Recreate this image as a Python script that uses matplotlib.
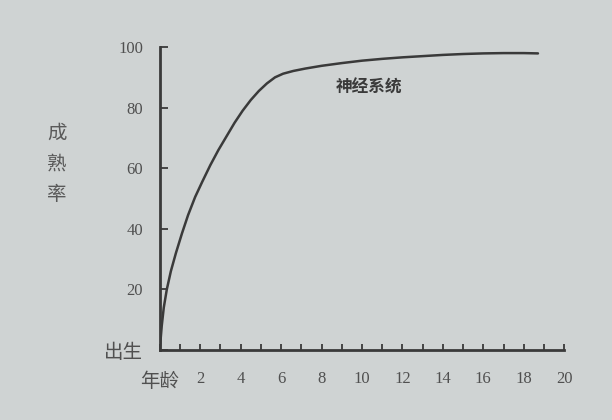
"""Maturation curve of the nervous system (scanned textbook figure)."""

import matplotlib

matplotlib.use("Agg")
import matplotlib.pyplot as plt
from matplotlib.ticker import MultipleLocator

plt.rcParams["font.family"] = ["Noto Sans CJK SC", "DejaVu Sans"]

# values
age = [0, 0.1, 0.2, 0.35, 0.55, 0.8, 1.1, 1.4, 1.75, 2.1, 2.5, 2.9, 3.3,
       3.7, 4.1, 4.5, 4.9, 5.3, 5.7, 6.1, 6.6, 7.2, 8, 9, 10, 11, 12, 13,
       14, 15, 16, 17, 18, 18.7]
maturity = [0, 8, 14, 20, 26, 32, 38.5, 44.5, 50.5, 55.5, 61, 66, 70.5,
            75, 79, 82.5, 85.5, 88, 90, 91.2, 92.1, 92.9, 93.8, 94.7, 95.5,
            96.1, 96.6, 97.0, 97.4, 97.7, 97.9, 98.0, 98.0, 97.9]

y_ticks = [0, 20, 40, 60, 80, 100]
y_labels = ["出生", "20", "40", "60", "80", "100"]
x_ticks = [0, 2, 4, 6, 8, 10, 12, 14, 16, 18, 20]
x_labels = ["年龄", "2", "4", "6", "8", "10", "12", "14", "16", "18", "20"]
curve_name = "神经系统"
y_title = "成熟率"

bg = "#cfd3d3"
ink = "#3a3a3a"
text_ink = "#505050"
serif = ["Liberation Serif", "DejaVu Serif"]

fig = plt.figure(figsize=(6.12, 4.2), dpi=100, facecolor=bg)
ax = fig.add_axes([0.261, 0.1667, 0.661, 0.7213], facecolor=bg)

ax.plot(age, maturity, color=ink, lw=1.8, solid_capstyle="round",
        solid_joinstyle="round")

ax.set_xlim(0, 20)
ax.set_ylim(0, 100)
for side in ("top", "right"):
    ax.spines[side].set_visible(False)
for side in ("left", "bottom"):
    ax.spines[side].set_color(ink)
    ax.spines[side].set_linewidth(2.0)

ax.set_yticks(y_ticks)
ax.set_yticklabels(y_labels)
ax.set_xticks(x_ticks)
ax.set_xticklabels(x_labels)
ax.xaxis.set_minor_locator(MultipleLocator(1))
ax.tick_params(axis="y", direction="in", length=6, width=1.3, color=ink,
               labelcolor=text_ink, pad=12)
ax.tick_params(axis="x", which="both", direction="in", length=4, width=1.3,
               color=ink, labelcolor=text_ink, pad=15)

for lab in ax.get_yticklabels():
    if lab.get_text() == "出生":
        lab.set_fontsize(14)
    else:
        lab.set_fontsize(12)
        lab.set_family(serif)
for lab in ax.get_xticklabels():
    if lab.get_text() == "年龄":
        lab.set_fontsize(14)
    else:
        lab.set_fontsize(12)
        lab.set_family(serif)

ax.text(8.7, 86.5, curve_name, fontsize=12, color=ink, fontweight="bold",
        ha="left", va="center")
fig.text(0.093, 0.61, "\n".join(y_title), fontsize=14, color="#5a5a5a",
         ha="center", va="center", linespacing=1.6)

fig.savefig("out.png", dpi=100, facecolor=bg)
